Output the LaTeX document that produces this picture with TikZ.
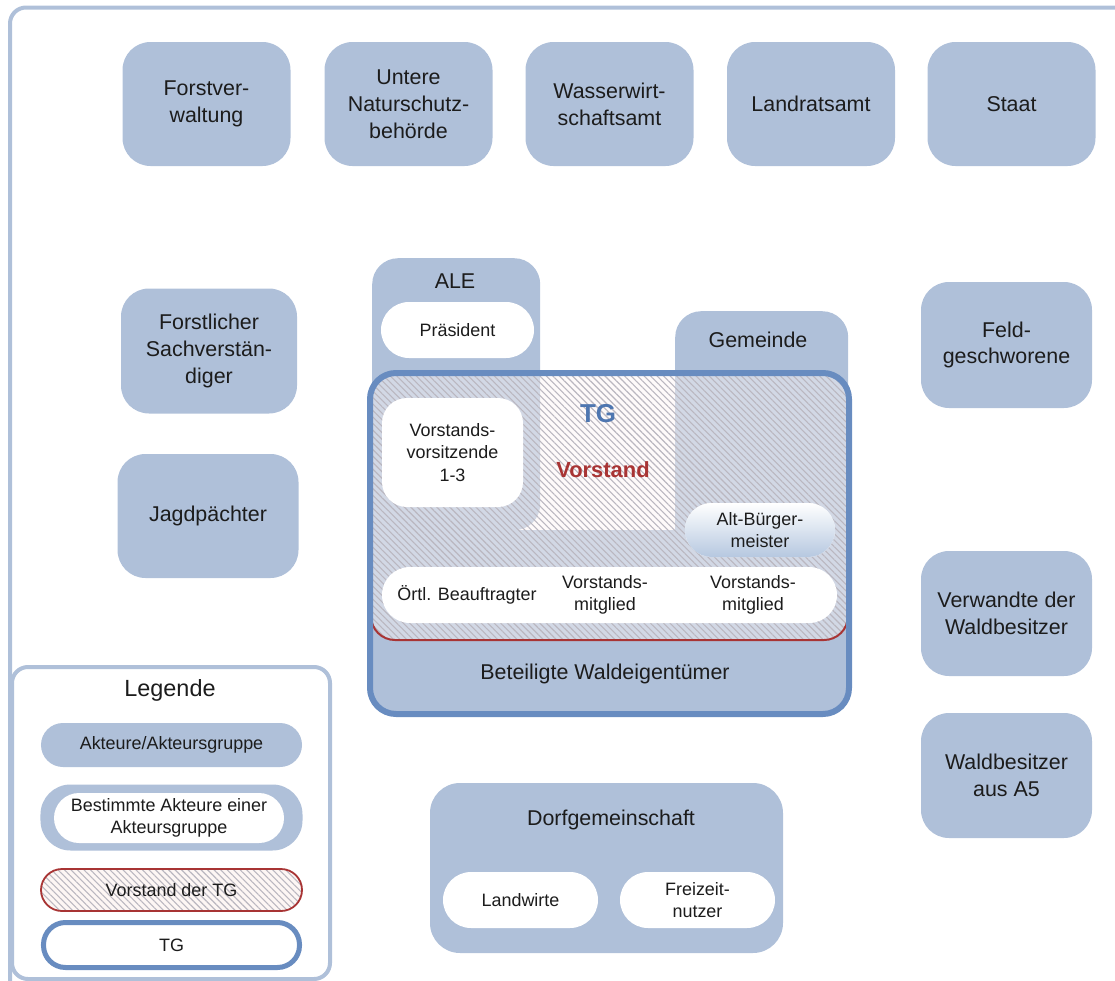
\documentclass[tikz,border=0pt]{standalone}
\usepackage{fontspec}
\setmainfont{Liberation Sans}
\usetikzlibrary{patterns.meta}
\definecolor{boxblue}{RGB}{175,192,217}
\definecolor{tgblue}{RGB}{104,140,192}
\definecolor{tgtext}{RGB}{78,118,176}
\definecolor{vred}{RGB}{168,52,52}
\definecolor{hatchgray}{RGB}{186,183,192}
\definecolor{vfill}{RGB}{253,246,244}
\definecolor{txt}{RGB}{28,28,28}
\definecolor{abmblue}{RGB}{182,200,224}
\newcommand\fbig{\fontsize{21.5}{27}\selectfont}
\newcommand\fsmall{\fontsize{18}{22.5}\selectfont}
\tikzset{
  actor/.style={fill=boxblue, rounded corners=28bp, align=center, text=txt, font=\fbig, inner sep=0pt},
  member/.style={fill=white, align=center, text=txt, font=\fsmall, inner sep=0pt},
  lbl/.style={align=center, text=txt, font=\fsmall, inner sep=0pt},
  lblbig/.style={align=center, text=txt, font=\fbig, inner sep=0pt},
  hatchpat/.style={pattern={Lines[angle=-45,distance=4.6bp,line width=1.1bp]}, pattern color=hatchgray},
}
\begin{document}
\begin{tikzpicture}[x=1bp,y=-1bp]
\useasboundingbox (0,0) rectangle (1115,981);
\begin{scope}
  \clip (0,0) rectangle (1115,981);
  \draw[boxblue, line width=4bp, rounded corners=16bp] (10,7.5) rectangle (1140,1010);
\end{scope}

% top row
\node[actor, minimum width=168bp, minimum height=124bp] (forst) at (206.5,104) {Forstver-\\waltung};
\node[actor, minimum width=168bp, minimum height=124bp] (unb) at (408.5,104) {Untere\\Naturschutz-\\behörde};
\node[actor, minimum width=168bp, minimum height=124bp] (wwa) at (609.5,104) {Wasserwirt-\\schaftsamt};
\node[actor, minimum width=168bp, minimum height=124bp] (lra) at (811,104) {Landratsamt};
\node[actor, minimum width=168bp, minimum height=124bp] (staat) at (1011.5,104) {Staat};

% left column
\node[actor, minimum width=176bp, minimum height=125bp] (fsv) at (209,351) {Forstlicher\\Sachverstän-\\diger};
\node[actor, minimum width=181bp, minimum height=124bp] (jagd) at (208,516) {Jagdpächter};

% right column
\node[actor, minimum width=171bp, minimum height=126bp] (feld) at (1006.5,345) {Feld-\\geschworene};
\node[actor, minimum width=171bp, minimum height=125bp] (verw) at (1006.5,613.5) {Verwandte der\\Waldbesitzer};
\node[actor, minimum width=171bp, minimum height=125bp] (wba5) at (1006.5,775.5) {Waldbesitzer\\aus A5};

% TG structure
\fill[boxblue, rounded corners=26bp] (370,373) rectangle (849,714);
\fill[white] (515,373) rectangle (675,530);
\node[actor, minimum width=168bp, minimum height=272bp, anchor=north west, rounded corners=26bp] (ale) at (372,258) {};
\node[actor, minimum width=173bp, minimum height=244bp, anchor=north west, rounded corners=26bp] (gem) at (675,311) {};
% Vorstand hatch
\path[fill=vfill, fill opacity=0.45, rounded corners=24bp] (371,373) rectangle (848,640);
\path[hatchpat, rounded corners=24bp] (371,373) rectangle (848,640);
\draw[vred, line width=2bp, rounded corners=24bp] (371,373) rectangle (848,640);
% TG border
\draw[tgblue, line width=6bp, rounded corners=26bp] (370,373) rectangle (849,714);

\node[lblbig] (aletxt) at (455,281) {ALE};
\node[lblbig] (gemtxt) at (758,340) {Gemeinde};
\node[member, minimum width=153bp, minimum height=56bp, rounded corners=28bp] (praes) at (457.5,330) {Präsident};
\node[member, minimum width=141bp, minimum height=109bp, rounded corners=25bp] (vvs) at (452.5,452.5) {Vorstands-\\vorsitzende\\1-3};
\node[member, top color=white, bottom color=abmblue, minimum width=150bp, minimum height=54bp, rounded corners=27bp] (abm) at (760,530) {Alt-Bürger-\\meister};
\node[member, minimum width=455bp, minimum height=56bp, rounded corners=28bp] (bar) at (609.5,595) {};
\node[lbl] (oertl) at (467,595) {Örtl. Beauftragter};
\node[lbl] (vm1) at (605,595) {Vorstands-\\mitglied};
\node[lbl] (vm2) at (753,595) {Vorstands-\\mitglied};
\node[inner sep=0pt, text=tgtext, font=\bfseries\fontsize{26}{30}\selectfont] (tglbl) at (598,414) {TG};
\node[inner sep=0pt, text=vred, font=\bfseries\fontsize{22}{26}\selectfont] (vlbl) at (603,470) {Vorstand};
\node[lblbig] (bwe) at (605,674) {Beteiligte Waldeigentümer};

% Dorfgemeinschaft
\node[actor, minimum width=353bp, minimum height=170bp, rounded corners=30bp] (dorf) at (606.5,868) {};
\node[lblbig] (dorftxt) at (611,820) {Dorfgemeinschaft};
\node[member, minimum width=155bp, minimum height=56bp, rounded corners=28bp] (landw) at (520.5,900) {Landwirte};
\node[member, minimum width=155bp, minimum height=56bp, rounded corners=28bp] (freiz) at (697.5,900) {Freizeit-\\nutzer};

% Legend
\node[draw=boxblue, fill=white, line width=4bp, rounded corners=16bp, minimum width=318bp, minimum height=312bp, anchor=north west] (legend) at (10,665) {};
\node[inner sep=0pt, text=txt, font=\fontsize{23.5}{27}\selectfont] (legtitle) at (170,690) {Legende};
\node[actor, font=\fsmall, minimum width=261bp, minimum height=44bp, rounded corners=22bp] (lakt) at (171.5,745) {Akteure/Akteursgruppe};
\node[actor, minimum width=262bp, minimum height=66bp, rounded corners=30bp] (lbest) at (171.5,817.5) {};
\node[member, minimum width=230bp, minimum height=50bp, rounded corners=25bp] (lbesti) at (169,818) {Bestimmte Akteure einer\\Akteursgruppe};
\path[fill=vfill, rounded corners=21bp] (41,869) rectangle (302,911);
\path[hatchpat, rounded corners=21bp] (41,869) rectangle (302,911);
\node[draw=vred, line width=1.8bp, minimum width=261bp, minimum height=42bp, rounded corners=21bp, font=\fsmall, text=txt, inner sep=0pt] (lvor) at (171.5,890) {Vorstand der TG};
\node[draw=tgblue, fill=white, line width=5bp, minimum width=256bp, minimum height=45bp, rounded corners=22bp, font=\fsmall, text=txt, inner sep=0pt] (ltg) at (171.5,945) {TG};
\end{tikzpicture}
\end{document}
